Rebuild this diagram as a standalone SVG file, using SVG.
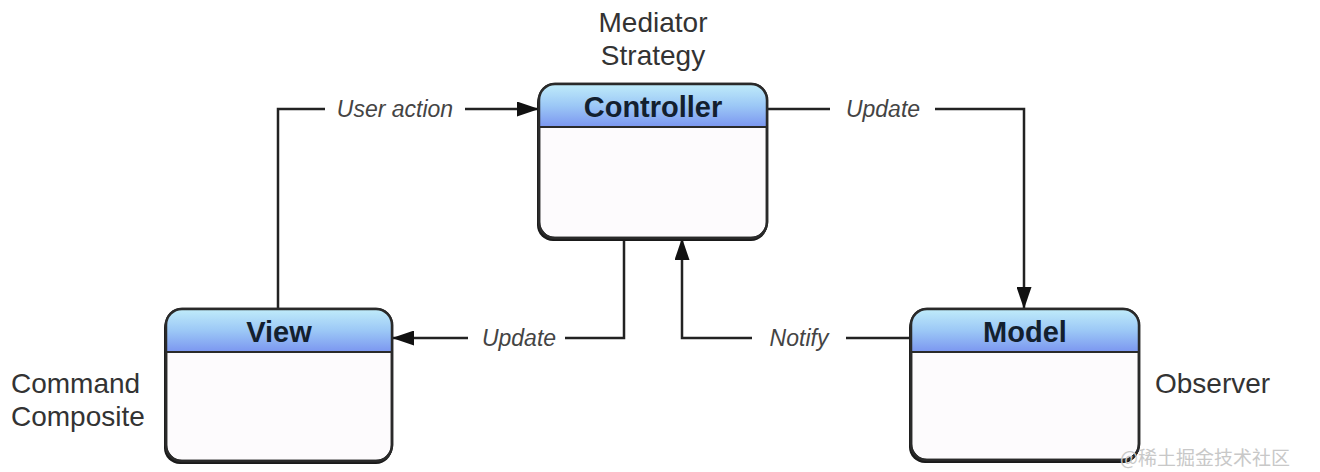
<svg xmlns="http://www.w3.org/2000/svg" width="1320" height="472" viewBox="0 0 1320 472">
<style>
.box{fill:#fdfbfd;stroke:#2a2a2a;stroke-width:2.5}
.shadow{fill:#1a1a1a}
.sep{stroke:#2a2a2a;stroke-width:2}
.title{font-family:"Liberation Sans",Arial,sans-serif;font-weight:bold;font-size:29px;fill:#13202e;text-anchor:middle}
.note{font-family:"Liberation Sans",Arial,sans-serif;font-size:28px;fill:#333}
.lbl{font-family:"Liberation Sans",Arial,sans-serif;font-style:italic;font-size:23px;fill:#444;text-anchor:middle}
.wire{fill:none;stroke:#222;stroke-width:2.5}
.wm{font-family:"Noto Sans CJK SC",sans-serif;font-size:19px;fill:#c8c8c8}
</style>
<defs>
<linearGradient id="hdr" x1="0" y1="0" x2="0" y2="1">
<stop offset="0" stop-color="#c0ecfa"/>
<stop offset="0.5" stop-color="#9cc8f6"/>
<stop offset="1" stop-color="#7b96f0"/>
</linearGradient>
<marker id="arr" viewBox="0 0 22 15" refX="22" refY="7.5" markerWidth="22" markerHeight="15" markerUnits="userSpaceOnUse" orient="auto">
<path d="M0,0 L22,7.5 L0,15 Z" fill="#111"/>
</marker>
<clipPath id="cC"><rect x="539" y="84" width="228" height="154" rx="16"/></clipPath>
<clipPath id="cV"><rect x="166" y="309" width="226" height="152" rx="16"/></clipPath>
<clipPath id="cM"><rect x="911" y="309" width="228" height="151" rx="16"/></clipPath>
</defs>

<g id="connectors">
<polyline class="wire" points="278,309 278,109 325,109"/>
<line class="wire" x1="465" y1="109" x2="539" y2="109" marker-end="url(#arr)"/>
<line class="wire" x1="767" y1="109" x2="830" y2="109"/>
<polyline class="wire" points="935,109 1024,109 1024,309" marker-end="url(#arr)"/>
<polyline class="wire" points="565,338 624,338 624,238"/>
<line class="wire" x1="468" y1="338" x2="392" y2="338" marker-end="url(#arr)"/>
<line class="wire" x1="911" y1="338" x2="846" y2="338"/>
<polyline class="wire" points="752,338 682,338 682,238" marker-end="url(#arr)"/>
<text class="lbl" x="395" y="117">User action</text>
<text class="lbl" x="883" y="117">Update</text>
<text class="lbl" x="519" y="346">Update</text>
<text class="lbl" x="799" y="346">Notify</text>
</g>

<g id="controller">
<rect class="shadow" x="537" y="87" width="230" height="154" rx="16"/>
<rect class="box" x="539" y="84" width="228" height="154" rx="16"/>
<rect x="539" y="84" width="228" height="43" fill="url(#hdr)" clip-path="url(#cC)"/>
<rect x="539" y="84" width="228" height="154" rx="16" fill="none" stroke="#2a2a2a" stroke-width="2.5"/>
<line class="sep" x1="539" y1="127" x2="767" y2="127"/>
<text class="title" x="653" y="117">Controller</text>
</g>

<g id="view">
<rect class="shadow" x="164" y="312" width="228" height="152" rx="16"/>
<rect class="box" x="166" y="309" width="226" height="152" rx="16"/>
<rect x="166" y="309" width="226" height="43" fill="url(#hdr)" clip-path="url(#cV)"/>
<rect x="166" y="309" width="226" height="152" rx="16" fill="none" stroke="#2a2a2a" stroke-width="2.5"/>
<line class="sep" x1="166" y1="352" x2="392" y2="352"/>
<text class="title" x="279" y="342">View</text>
</g>

<g id="model">
<rect class="shadow" x="909" y="312" width="230" height="151" rx="16"/>
<rect class="box" x="911" y="309" width="228" height="151" rx="16"/>
<rect x="911" y="309" width="228" height="43" fill="url(#hdr)" clip-path="url(#cM)"/>
<rect x="911" y="309" width="228" height="151" rx="16" fill="none" stroke="#2a2a2a" stroke-width="2.5"/>
<line class="sep" x1="911" y1="352" x2="1139" y2="352"/>
<text class="title" x="1025" y="342">Model</text>
</g>

<text class="note" x="653" y="32" text-anchor="middle">Mediator</text>
<text class="note" x="653" y="65" text-anchor="middle">Strategy</text>
<text class="note" x="11" y="393">Command</text>
<text class="note" x="11" y="426">Composite</text>
<text class="note" x="1155" y="393">Observer</text>
<text class="wm" x="1120" y="465">@稀土掘金技术社区</text>
</svg>
